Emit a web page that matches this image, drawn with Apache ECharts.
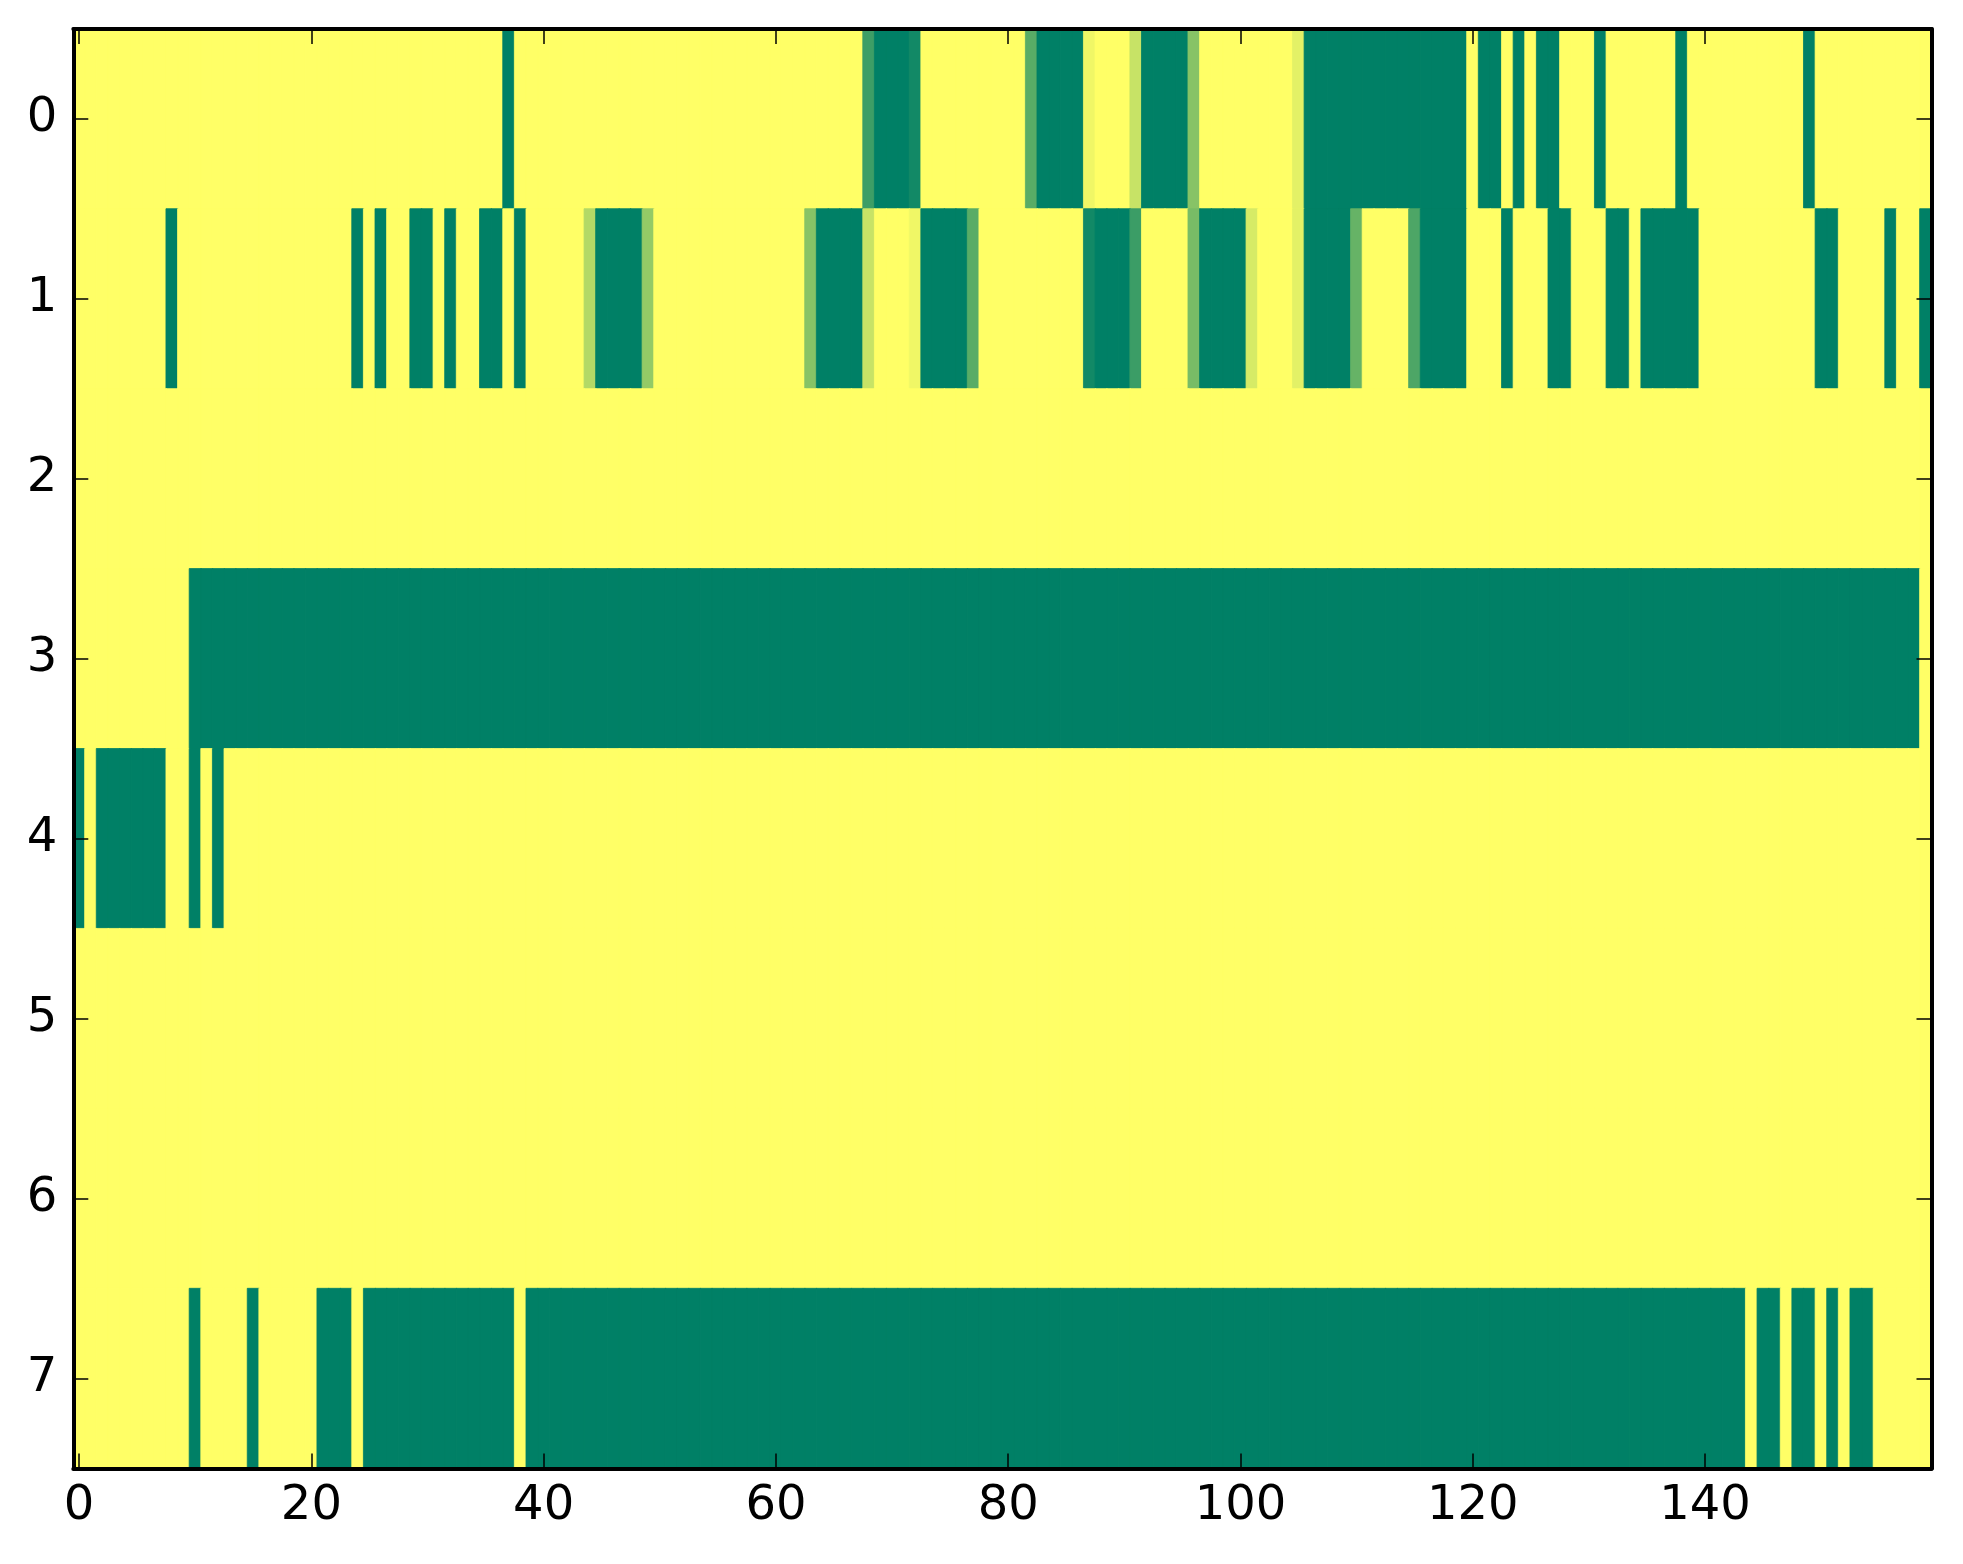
<!DOCTYPE html>
<html><head><meta charset="utf-8">
<script src="https://cdn.jsdelivr.net/npm/echarts@6/dist/echarts.min.js"></script>
<style>html,body{margin:0;padding:0;background:#fff}#c{width:1963px;height:1564px}</style>
</head><body><div id="c"></div>
<script>
// Tick labels
const xTickLabels = ['0','20','40','60','80','100','120','140'];
const yCategories = ['0','1','2','3','4','5','6','7'];
const nCols = 160;

// Row values, 160 columns each, 20 per line
const row0 = [
1,1,1,1,1,1,1,1,1,1,1,1,1,1,1,1,1,1,1,1,
1,1,1,1,1,1,1,1,1,1,1,1,1,1,1,1,1,0,1,1,
1,1,1,1,1,1,1,1,1,1,1,1,1,1,1,1,1,1,1,1,
1,1,1,1,1,1,1,1,.24,0,0,0,.07,1,1,1,1,1,1,1,
1,1,.35,0,0,0,0,.94,1,1,1,.78,0,0,0,0,.53,1,1,1,
1,1,1,1,1,.89,0,0,0,0,0,0,0,0,0,0,0,0,0,0,
1,0,0,1,0,1,0,0,1,1,1,0,1,1,1,1,1,1,0,1,
1,1,1,1,1,1,1,1,1,0,1,1,1,1,1,1,1,1,1,1];
const row1 = [
1,1,1,1,1,1,1,1,0,1,1,1,1,1,1,1,1,1,1,1,
1,1,1,1,0,1,0,1,1,0,0,1,0,1,1,0,0,1,0,1,
1,1,1,1,.7,0,0,0,0,.58,1,1,1,1,1,1,1,1,1,1,
1,1,1,.53,0,0,0,0,.78,1,1,1,.94,0,0,0,0,.35,1,1,
1,1,1,1,1,1,1,.07,0,0,0,.23,1,1,1,1,.47,0,0,0,
0,.84,1,1,1,.89,0,0,0,0,.4,1,1,1,1,.3,0,0,0,0,
1,1,1,0,1,1,1,0,0,1,1,1,0,0,1,0,0,0,0,0,
1,1,1,1,1,1,1,1,1,1,0,0,1,1,1,1,0,1,1,0];
const row2 = [
1,1,1,1,1,1,1,1,1,1,1,1,1,1,1,1,1,1,1,1,
1,1,1,1,1,1,1,1,1,1,1,1,1,1,1,1,1,1,1,1,
1,1,1,1,1,1,1,1,1,1,1,1,1,1,1,1,1,1,1,1,
1,1,1,1,1,1,1,1,1,1,1,1,1,1,1,1,1,1,1,1,
1,1,1,1,1,1,1,1,1,1,1,1,1,1,1,1,1,1,1,1,
1,1,1,1,1,1,1,1,1,1,1,1,1,1,1,1,1,1,1,1,
1,1,1,1,1,1,1,1,1,1,1,1,1,1,1,1,1,1,1,1,
1,1,1,1,1,1,1,1,1,1,1,1,1,1,1,1,1,1,1,1];
const row3 = [
1,1,1,1,1,1,1,1,1,1,0,0,0,0,0,0,0,0,0,0,
0,0,0,0,0,0,0,0,0,0,0,0,0,0,0,0,0,0,0,0,
0,0,0,0,0,0,0,0,0,0,0,0,0,0,0,0,0,0,0,0,
0,0,0,0,0,0,0,0,0,0,0,0,0,0,0,0,0,0,0,0,
0,0,0,0,0,0,0,0,0,0,0,0,0,0,0,0,0,0,0,0,
0,0,0,0,0,0,0,0,0,0,0,0,0,0,0,0,0,0,0,0,
0,0,0,0,0,0,0,0,0,0,0,0,0,0,0,0,0,0,0,0,
0,0,0,0,0,0,0,0,0,0,0,0,0,0,0,0,0,0,0,1];
const row4 = [
0,1,0,0,0,0,0,0,1,1,0,1,0,1,1,1,1,1,1,1,
1,1,1,1,1,1,1,1,1,1,1,1,1,1,1,1,1,1,1,1,
1,1,1,1,1,1,1,1,1,1,1,1,1,1,1,1,1,1,1,1,
1,1,1,1,1,1,1,1,1,1,1,1,1,1,1,1,1,1,1,1,
1,1,1,1,1,1,1,1,1,1,1,1,1,1,1,1,1,1,1,1,
1,1,1,1,1,1,1,1,1,1,1,1,1,1,1,1,1,1,1,1,
1,1,1,1,1,1,1,1,1,1,1,1,1,1,1,1,1,1,1,1,
1,1,1,1,1,1,1,1,1,1,1,1,1,1,1,1,1,1,1,1];
const row5 = [
1,1,1,1,1,1,1,1,1,1,1,1,1,1,1,1,1,1,1,1,
1,1,1,1,1,1,1,1,1,1,1,1,1,1,1,1,1,1,1,1,
1,1,1,1,1,1,1,1,1,1,1,1,1,1,1,1,1,1,1,1,
1,1,1,1,1,1,1,1,1,1,1,1,1,1,1,1,1,1,1,1,
1,1,1,1,1,1,1,1,1,1,1,1,1,1,1,1,1,1,1,1,
1,1,1,1,1,1,1,1,1,1,1,1,1,1,1,1,1,1,1,1,
1,1,1,1,1,1,1,1,1,1,1,1,1,1,1,1,1,1,1,1,
1,1,1,1,1,1,1,1,1,1,1,1,1,1,1,1,1,1,1,1];
const row6 = [
1,1,1,1,1,1,1,1,1,1,1,1,1,1,1,1,1,1,1,1,
1,1,1,1,1,1,1,1,1,1,1,1,1,1,1,1,1,1,1,1,
1,1,1,1,1,1,1,1,1,1,1,1,1,1,1,1,1,1,1,1,
1,1,1,1,1,1,1,1,1,1,1,1,1,1,1,1,1,1,1,1,
1,1,1,1,1,1,1,1,1,1,1,1,1,1,1,1,1,1,1,1,
1,1,1,1,1,1,1,1,1,1,1,1,1,1,1,1,1,1,1,1,
1,1,1,1,1,1,1,1,1,1,1,1,1,1,1,1,1,1,1,1,
1,1,1,1,1,1,1,1,1,1,1,1,1,1,1,1,1,1,1,1];
const row7 = [
1,1,1,1,1,1,1,1,1,1,0,1,1,1,1,0,1,1,1,1,
1,0,0,0,1,0,0,0,0,0,0,0,0,0,0,0,0,0,1,0,
0,0,0,0,0,0,0,0,0,0,0,0,0,0,0,0,0,0,0,0,
0,0,0,0,0,0,0,0,0,0,0,0,0,0,0,0,0,0,0,0,
0,0,0,0,0,0,0,0,0,0,0,0,0,0,0,0,0,0,0,0,
0,0,0,0,0,0,0,0,0,0,0,0,0,0,0,0,0,0,0,0,
0,0,0,0,0,0,0,0,0,0,0,0,0,0,0,0,0,0,0,0,
0,0,0,0,1,0,0,1,0,0,1,0,1,0,0,1,1,1,1,1];

const rows = [row0,row1,row2,row3,row4,row5,row6,row7];
const xCategories = [];
for (let i = 0; i < nCols; i++) xCategories.push(String(i));

// matplotlib "summer" colormap: (v, 0.5 + v/2, 0.4)
function summer(v) {
  const r = Math.round(255 * v), g = Math.round(255 * (0.5 + v / 2)), b = 102;
  return 'rgb(' + r + ',' + g + ',' + b + ')';
}
const cells = [];
rows.forEach((r, y) => r.forEach((v, x) => cells.push({
  value: [x, y, v],
  itemStyle: {borderColor: summer(v), borderWidth: 0.8}
})));

const FONT = 'DejaVu Sans';
const showX = (i) => xTickLabels.indexOf(String(i)) >= 0;
const axisLine = {show: true, onZero: false, lineStyle: {color: '#000', width: 4}};
const tickStyle = {color: '#000', width: 1.5};

const chart = echarts.init(document.getElementById('c'), null, {renderer: 'canvas'});
chart.setOption({
  animation: false,
  backgroundColor: '#fff',
  grid: {left: 73.3, right: 31.5, top: 29, bottom: 95.5, containLabel: false},
  visualMap: {show: false, min: 0, max: 1, dimension: 2, inRange: {color: ['#008066', '#ffff66']}},
  xAxis: [
    {type: 'category', data: xCategories, position: 'bottom', z: 10,
     axisLine: axisLine,
     axisTick: {show: true, inside: true, length: 15, alignWithLabel: true, interval: (i) => showX(i), lineStyle: tickStyle},
     axisLabel: {show: true, interval: (i) => showX(i), color: '#000', fontFamily: FONT, fontSize: 48, margin: 14},
     splitLine: {show: false}},
    {type: 'category', data: xCategories, position: 'top', z: 10,
     axisLine: axisLine,
     axisTick: {show: true, inside: true, length: 15, alignWithLabel: true, interval: (i) => showX(i), lineStyle: tickStyle},
     axisLabel: {show: false}, splitLine: {show: false}}
  ],
  yAxis: [
    {type: 'category', data: yCategories, inverse: true, position: 'left', z: 10,
     axisLine: axisLine,
     axisTick: {show: true, inside: true, length: 15, alignWithLabel: true, lineStyle: tickStyle},
     axisLabel: {show: true, color: '#000', fontFamily: FONT, fontSize: 48, margin: 16},
     splitLine: {show: false}},
    {type: 'category', data: yCategories, inverse: true, position: 'right', z: 10,
     axisLine: axisLine,
     axisTick: {show: true, inside: true, length: 15, alignWithLabel: true, lineStyle: tickStyle},
     axisLabel: {show: false}, splitLine: {show: false}}
  ],
  series: [{
    type: 'heatmap', xAxisIndex: 0, yAxisIndex: 0, data: cells,
    emphasis: {disabled: true}
  }]
});
</script>
</body></html>
